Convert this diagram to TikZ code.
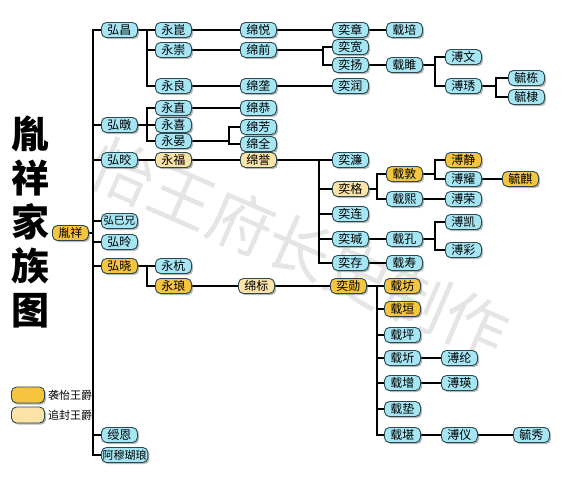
\documentclass[tikz,border=0pt]{standalone}
\usepackage{fontspec}
\newfontfamily\cjk{Noto Sans CJK SC}
\usetikzlibrary{shadows}
\definecolor{cy}{HTML}{A6E6F4}
\definecolor{gd}{HTML}{F5C53F}
\definecolor{lg}{HTML}{FBE2A6}
\definecolor{bd}{HTML}{2A4A50}
\pgfdeclarelayer{bg}
\pgfsetlayers{bg,main}
\tikzset{
  box/.style={draw=bd, line width=0.9pt, rounded corners=5pt, minimum width=36pt,
    minimum height=15pt, inner sep=1.2pt, font=\cjk\fontsize{12}{12}\selectfont, anchor=west,
    drop shadow={shadow xshift=1.6pt, shadow yshift=-1.6pt, fill=black!55}},
  cb/.style={box, fill=cy},
  gb/.style={box, fill=gd},
  lb/.style={box, fill=lg},
  link/.style={line width=1.6pt, black},
}
\newcommand\mybrk[3]{\foreach \ch in {#3}{\draw[link] (#1.east) -- (#1.east -| #2) |- (\ch.west);}}
\begin{document}
\begin{tikzpicture}[x=1pt,y=-1pt]
\useasboundingbox (0,0) rectangle (577,482);
% root and title
\node[font=\cjk\bfseries\fontsize{38}{44}\selectfont, align=center] (title) at (31,222) {胤\\祥\\家\\族\\图};
\node[gb] (root) at (52,233) {胤祥};
% column 1
\node[cb] (hc) at (101,30) {弘昌};
\node[cb] (ht) at (101,125) {弘暾};
\node[cb] (hj) at (101,160) {弘晈};
\node[cb, font=\cjk\fontsize{10.5}{10.5}\selectfont] (hs) at (101,221) {弘巳兄};
\node[cb] (hl) at (101,242) {弘昤};
\node[gb] (hx) at (101,266) {弘晓};
\node[cb] (se) at (101,435) {绶恩};
\node[cb, font=\cjk\fontsize{11}{11}\selectfont] (am) at (101,455) {阿穆瑚琅};
% column 2
\node[cb] (yk) at (155,30) {永崑};
\node[cb] (yc) at (155,50) {永崇};
\node[cb] (yl) at (155,86) {永良};
\node[cb] (yz) at (155,108) {永直};
\node[cb] (yxi) at (155,125) {永喜};
\node[cb] (yy) at (155,141) {永晏};
\node[lb] (yf) at (155,160) {永福};
\node[cb] (yh) at (155,266) {永杭};
\node[gb] (ylg) at (155,286) {永琅};
% column 3
\node[cb] (my) at (240,30) {绵悦};
\node[cb] (mq) at (240,50) {绵前};
\node[cb] (ml) at (240,86) {绵垄};
\node[cb] (mg) at (240,108) {绵恭};
\node[cb] (mf) at (240,127) {绵芳};
\node[cb] (mqn) at (240,144) {绵全};
\node[lb] (mxy) at (240,160) {绵誉};
\node[lb] (mb) at (238,286) {绵标};
% column 4
\node[cb] (iz) at (332,30) {奕章};
\node[cb] (ik) at (332,47) {奕宽};
\node[cb] (iy) at (332,65) {奕扬};
\node[cb] (ir) at (332,86) {奕润};
\node[cb] (il) at (332,160) {奕濂};
\node[lb] (ig) at (332,189) {奕格};
\node[cb] (ilian) at (332,214) {奕连};
\node[cb] (ij) at (332,239) {奕瑊};
\node[cb] (ic) at (332,263) {奕存};
\node[gb] (ix) at (330,286) {奕勋};
% column 5
\node[cb] (zp) at (386,30) {载培};
\node[cb] (zj) at (386,65) {载雎};
\node[gb] (zd) at (386,174) {载敦};
\node[cb] (zx) at (386,199) {载熙};
\node[cb] (zk) at (386,239) {载孔};
\node[cb] (zs) at (386,263) {载寿};
\node[gb] (zf) at (384,286) {载坊};
\node[gb] (zy) at (384,309) {载垣};
\node[cb] (zpi) at (384,335) {载坪};
\node[cb] (zq) at (384,358) {载圻};
\node[cb] (zz) at (384,383) {载增};
\node[cb] (zdi) at (384,409) {载垫};
\node[cb] (zkan) at (384,435) {载堪};
% column 6
\node[cb] (pw) at (445,57) {溥文};
\node[cb] (px) at (445,86) {溥琇};
\node[gb] (pj) at (445,160) {溥静};
\node[cb] (py) at (445,179) {溥耀};
\node[cb] (pr) at (445,199) {溥荣};
\node[cb] (pk) at (445,222) {溥凯};
\node[cb] (pc) at (445,250) {溥彩};
\node[cb] (pl) at (441,358) {溥纶};
\node[cb] (pyi) at (441,383) {溥瑛};
\node[cb] (pyy) at (441,435) {溥仪};
% column 7
\node[cb] (yd) at (508,78) {毓栋};
\node[cb] (ydi) at (508,97) {毓棣};
\node[gb] (yq) at (502,179) {毓麒};
\node[cb] (yxiu) at (513,435) {毓秀};
% legend
\node[box, fill=gd, anchor=center, minimum width=33pt, minimum height=16pt] (lgo) at (28,395) {};
\node[anchor=west, inner sep=1pt, font=\cjk\fontsize{11}{11}\selectfont] (lgot) at (47,395) {袭怡王爵};
\node[box, fill=lg, anchor=center, minimum width=33pt, minimum height=16pt] (lli) at (28,415) {};
\node[anchor=west, inner sep=1pt, font=\cjk\fontsize{11}{11}\selectfont] (llit) at (47,415) {追封王爵};
% bracket coordinates
\coordinate (m) at (93,0);
\coordinate (b147) at (147,0);
\coordinate (b229) at (229,0);
\coordinate (b323) at (323,0);
\coordinate (b319) at (319,0);
\coordinate (b377) at (377,0);
\coordinate (b435) at (435,0);
\coordinate (b496) at (496,0);
\begin{pgfonlayer}{bg}
\fill[white] (0,0) rectangle (577,482);
\node[text=black!10, font=\cjk\fontsize{64}{64}\selectfont, rotate=-23.5] (wm) at (300,248) {怡王府长史制作};
\mybrk{root}{m}{hc,ht,hj,hs,hl,hx,se,am}
\mybrk{hc}{b147}{yk,yc,yl}
\mybrk{ht}{b147}{yz,yxi,yy}
\mybrk{hx}{b147}{yh,ylg}
\mybrk{yy}{b229}{mf,mqn}
\mybrk{mq}{b323}{ik,iy}
\mybrk{mxy}{b319}{il,ig,ilian,ij,ic}
\mybrk{ig}{b377}{zd,zx}
\mybrk{ix}{b377}{zf,zy,zpi,zq,zz,zdi,zkan}
\mybrk{zj}{b435}{pw,px}
\mybrk{zd}{b435}{pj,py}
\mybrk{zk}{b435}{pk,pc}
\mybrk{px}{b496}{yd,ydi}
\draw[link] (yk) -- (my);
\draw[link] (my) -- (iz);
\draw[link] (iz) -- (zp);
\draw[link] (yc) -- (mq);
\draw[link] (yl) -- (ml);
\draw[link] (ml) -- (ir);
\draw[link] (iy) -- (zj);
\draw[link] (yz) -- (mg);
\draw[link] (hj) -- (yf);
\draw[link] (yf) -- (mxy);
\draw[link] (py) -- (yq);
\draw[link] (zx) -- (pr);
\draw[link] (ij) -- (zk);
\draw[link] (ic) -- (zs);
\draw[link] (ylg) -- (mb);
\draw[link] (mb) -- (ix);
\draw[link] (zq) -- (pl);
\draw[link] (zz) -- (pyi);
\draw[link] (zkan) -- (pyy);
\draw[link] (pyy) -- (yxiu);
\end{pgfonlayer}
\end{tikzpicture}
\end{document}
